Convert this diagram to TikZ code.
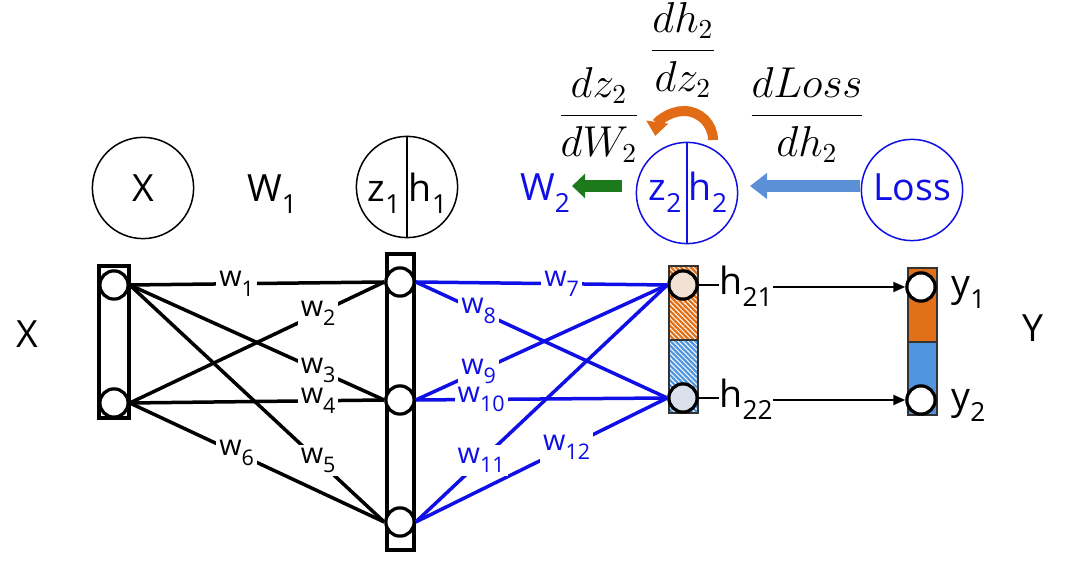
\documentclass[tikz,border=0pt]{standalone}
\usepackage{fontspec}
\setmainfont{Open Sans}
\usetikzlibrary{arrows.meta,patterns.meta}
\definecolor{myblue}{RGB}{15,15,230}
\definecolor{orng}{RGB}{226,108,22}
\definecolor{colorng}{RGB}{226,112,25}
\definecolor{colblue}{RGB}{80,150,222}
\definecolor{arrblue}{RGB}{92,144,214}
\definecolor{dgreen}{RGB}{28,122,28}
\definecolor{peach}{RGB}{242,226,212}
\definecolor{pale}{RGB}{218,224,236}
\newcommand{\lsb}[1]{\raisebox{-0.32em}{\fontsize{10.5}{11}\selectfont #1}}
\newcommand{\wsb}[1]{\raisebox{-0.32em}{\fontsize{8.6}{9}\selectfont #1}}
\pgfdeclarelayer{back}
\pgfsetlayers{back,main}
\begin{document}
\begin{tikzpicture}[x=0.4pt,y=-0.4pt,
  big/.style={circle,draw,line width=0.6pt,minimum size=40.5pt,inner sep=0pt},
  lab/.style={font=\fontsize{15}{16}\selectfont,inner sep=0pt},
  frac/.style={font=\fontsize{16}{19}\selectfont,inner sep=0pt},
  unit/.style={circle,draw,line width=1.3pt,fill=white,minimum size=11.3pt,inner sep=0pt},
  colbox/.style={draw,line width=1.3pt},
  wl/.style={fill=white,inner sep=1.2pt,font=\fontsize{11.5}{12}\selectfont},
  conn/.style={line width=1.4pt},
  bconn/.style={line width=1.4pt,myblue},
  outarrow/.style={line width=0.8pt,-{Triangle[length=4.8pt,width=4pt]}},
  hatch/.style={pattern={Lines[angle=-45,distance=1.4pt,line width=0.4pt]},pattern color=white}
]
\useasboundingbox (0,0) rectangle (1076,564);

% ---------- top row ----------
\node[big,lab] (bx) at (143,188) {};
\node[lab,anchor=base] (tx) at (143,202) {X};
\node[lab,anchor=base] (tw1) at (272,202) {W\lsb{1}};
\node[big] (bzh1) at (407,187) {};
\draw[line width=0.6pt] (bzh1.north) -- (bzh1.south);
\node[lab,anchor=base] (tz1) at (384,202) {z\lsb{1}};
\node[lab,anchor=base] (th1) at (428,202) {h\lsb{1}};

\node[lab,anchor=base,text=myblue] (tw2) at (545,201) {W\lsb{2}};
\node[big,draw=myblue] (bzh2) at (687,193) {};
\draw[line width=0.6pt,myblue] (bzh2.north) -- (bzh2.south);
\node[lab,anchor=base,text=myblue] (tz2) at (665,201) {z\lsb{2}};
\node[lab,anchor=base,text=myblue] (th2) at (708,201) {h\lsb{2}};
\node[big,draw=myblue] (bloss) at (912,190) {};
\node[lab,anchor=base,text=myblue] (tloss) at (912,201) {Loss};

% gradient arrows
\coordinate (ga) at (622,186);
\coordinate (gb) at (572,186);
\draw[dgreen,line width=4.8pt,-{Triangle[length=5.2pt,width=9.5pt]}] (ga) -- (gb);
\coordinate (ba) at (860,186);
\coordinate (bb) at (750,186);
\draw[arrblue,line width=4.8pt,-{Triangle[length=6.8pt,width=10pt]}] (ba) -- (bb);
\coordinate (oa0) at (713,140);
\draw[orng,line width=4pt,-{Triangle[length=5.6pt,width=8.5pt]}] (oa0) arc[start angle=0,end angle=-172,radius=29];

% fractions
\node[frac] (f1) at (683,50) {$\displaystyle\frac{dh_2}{dz_2}$};
\node[frac] (f2) at (599,115) {$\displaystyle\frac{dz_2}{dW_2}$};
\node[frac] (f3) at (807,115) {$\displaystyle\frac{dLoss}{dh_2}$};

% ---------- network ----------
\begin{pgfonlayer}{back}
\draw[colbox,fill=white] (99,266) rectangle (129,418);
\draw[colbox,fill=white] (387,254) rectangle (414,550);
\fill[colorng] (669,266) rectangle (698,340);
\path[hatch] (669,266) rectangle (698,340);
\fill[colblue] (669,340) rectangle (698,413);
\path[hatch] (669,340) rectangle (698,413);
\draw[line width=0.8pt,black!80] (669,266) rectangle (698,340);
\draw[line width=0.8pt,black!80] (669,340) rectangle (698,413);
\fill[colorng] (908,268) rectangle (937,342);
\fill[colblue] (908,342) rectangle (937,415);
\draw[line width=0.8pt,black!80] (908,268) rectangle (937,342);
\draw[line width=0.8pt,black!80] (908,342) rectangle (937,415);
\end{pgfonlayer}

\node[unit] (i1) at (114,285) {};
\node[unit] (i2) at (114,403) {};
\node[unit] (h1) at (400,282) {};
\node[unit] (h2) at (400,400) {};
\node[unit] (h3) at (400,522) {};
\node[unit,fill=peach] (oa) at (683,285) {};
\node[unit,fill=pale] (ob) at (683,398) {};
\node[unit] (ya) at (921,287) {};
\node[unit] (yb) at (921,400) {};

\node[lab,anchor=base] (lx) at (27,348) {X};
\node[lab,anchor=base] (ly) at (1033,342) {Y};

% first layer connections
\draw[conn] (i1.east) -- (h1.west);
\draw[conn] (i2.east) -- (h1.west);
\draw[conn] (i1.east) -- (h2.west);
\draw[conn] (i2.east) -- (h2.west);
\draw[conn] (i1.east) -- (h3.west);
\draw[conn] (i2.east) -- (h3.west);
% second layer connections
\draw[bconn] (h1.east) -- (oa.west);
\draw[bconn] (h1.east) -- (ob.west);
\draw[bconn] (h2.east) -- (oa.west);
\draw[bconn] (h2.east) -- (ob.west);
\draw[bconn] (h3.east) -- (oa.west);
\draw[bconn] (h3.east) -- (ob.west);

% weight labels
\path (i1.east) -- node[wl,pos=0.42] (lw1) {w\wsb{1}} (h1.west);
\path (i2.east) -- node[wl,pos=0.74] (lw2) {w\wsb{2}} (h1.west);
\path (i1.east) -- node[wl,pos=0.74] (lw3) {w\wsb{3}} (h2.west);
\path (i2.east) -- node[wl,pos=0.74] (lw4) {w\wsb{4}} (h2.west);
\path (i1.east) -- node[wl,pos=0.74] (lw5) {w\wsb{5}} (h3.west);
\path (i2.east) -- node[wl,pos=0.42] (lw6) {w\wsb{6}} (h3.west);
\path (h1.east) -- node[wl,pos=0.58,text=myblue] (lw7) {w\wsb{7}} (oa.west);
\path (h1.east) -- node[wl,pos=0.25,text=myblue] (lw8) {w\wsb{8}} (ob.west);
\path (h2.east) -- node[wl,pos=0.25,text=myblue] (lw9) {w\wsb{9}} (oa.west);
\path (h2.east) -- node[wl,pos=0.26,text=myblue] (lw10) {w\wsb{10}} (ob.west);
\path (h3.east) -- node[wl,pos=0.26,text=myblue] (lw11) {w\wsb{11}} (oa.west);
\path (h3.east) -- node[wl,pos=0.60,text=myblue] (lw12) {w\wsb{12}} (ob.west);

% outputs
\node[lab,anchor=base west] (lh21) at (719,295) {h\lsb{21}};
\node[lab,anchor=base west] (lh22) at (719,408) {h\lsb{22}};
\draw[line width=0.8pt] (oa.east) -- (oa.east -| lh21.west);
\draw[line width=0.8pt] (ob.east) -- (ob.east -| lh22.west);
\draw[outarrow] (lh21.east |- ya.west) -- (ya.west);
\draw[outarrow] (lh22.east |- yb.west) -- (yb.west);
\node[lab,anchor=base west] (ly1) at (951,297) {y\lsb{1}};
\node[lab,anchor=base west] (ly2) at (951,410) {y\lsb{2}};
\end{tikzpicture}
\end{document}
